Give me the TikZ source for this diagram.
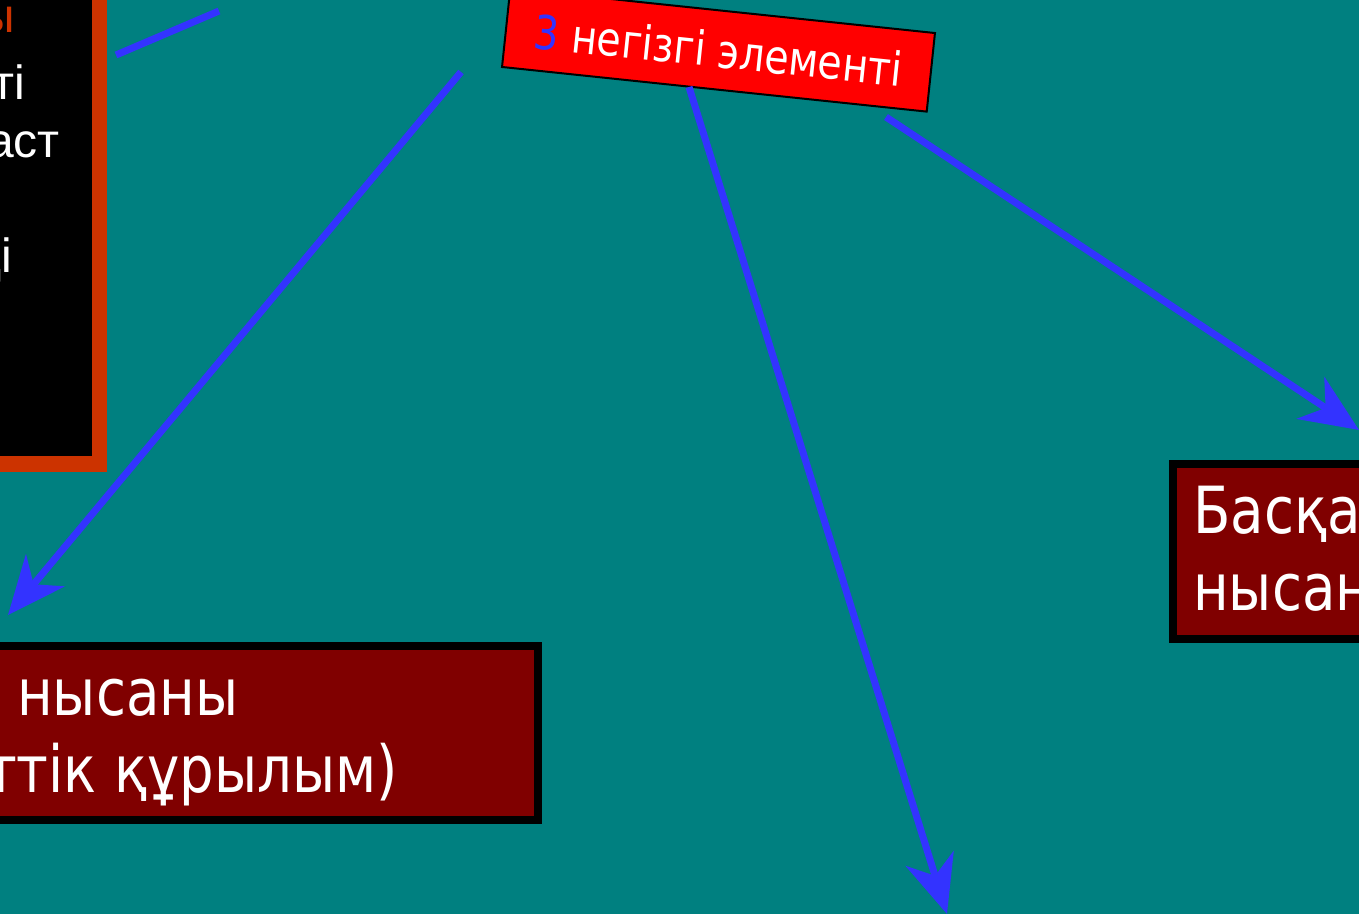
\documentclass[tikz,border=0pt]{standalone}
\usepackage{fontspec}
\setmainfont[FakeStretch=0.84]{DejaVu Sans}
\newfontfamily\arialfont{Liberation Sans}
\usetikzlibrary{arrows.meta}
\definecolor{slidebg}{HTML}{008080}
\definecolor{linkblue}{HTML}{3333FF}
\definecolor{rust}{HTML}{CC3300}
\definecolor{maroon}{HTML}{800000}
\tikzset{
  link/.style={draw=linkblue,line width=7,-{Stealth[length=58,width=50,inset=18]}},
  word/.style={inner sep=0,text=white,font=\fontsize{65}{70}\selectfont},
  note/.style={inner sep=0,text=white,font=\arialfont\fontsize{48}{56}\selectfont}
}
\begin{document}
\begin{tikzpicture}[x=1pt,y=-1pt]
      \useasboundingbox (0,0) rectangle (1359,914);
      \clip (0,0) rectangle (1359,914);
      \fill[slidebg] (0,0) rectangle (1359,914);
      % boxes
      \draw[rust,fill=black,line width=15.5] (-60,-60) rectangle (99.5,464);
      \draw[black,fill=maroon,line width=8] (-60,646) rectangle (538,820);
      \draw[black,fill=maroon,line width=8] (1173,464) rectangle (1500,639);
      % texts
      \node[note,text=rust,anchor=base east] (t1) at (15,32) {ы};
      \node[note,anchor=base east] (t2) at (25,99) {ті};
      \node[note,anchor=base east] (t3) at (60,157) {аст};
      \node[note,anchor=base east] (t4) at (12,272) {ді};
      \node[word,anchor=base west] (l1) at (17,715) {нысаны};
      \node[word,anchor=base east] (l2) at (398,792) {ттік құрылым)};
      \node[word,anchor=base west] (r1) at (1193,533) {Басқа};
      \node[word,anchor=base west] (r2) at (1193,610) {нысан};
      \node[draw=black,line width=2,fill=red,rotate=-6,minimum width=427,minimum height=79,
        inner sep=0,font=\fontsize{47}{52}\selectfont] (head) at (718.5,50)
        {\textcolor{linkblue}{3} \textcolor{white}{негізгі элементі}};
      % connectors
      \coordinate (a0) at (116,55);
      \coordinate (a1) at (219,11);
      \coordinate (s1) at (461,72);
      \coordinate (e1) at (8,615);
      \coordinate (s2) at (689,87);
      \coordinate (e2) at (947,914);
      \coordinate (s3) at (886,117);
      \coordinate (e3) at (1359,430);
      \draw[linkblue,line width=7] (a0) -- (a1);
      \draw[link] (s1) -- (e1);
      \draw[link] (s2) -- (e2);
      \draw[link] (s3) -- (e3);
    \end{tikzpicture}
\end{document}
